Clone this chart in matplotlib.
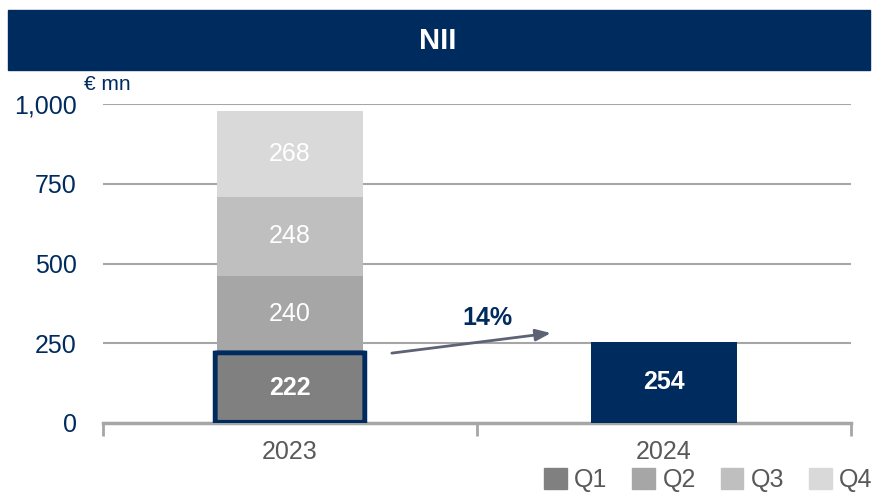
import matplotlib.pyplot as plt
from matplotlib.patches import FancyBboxPatch

plt.rcParams['font.family'] = ['Liberation Sans', 'DejaVu Sans']

years = ["2023", "2024"]
quarters = ["Q1", "Q2", "Q3", "Q4"]
nii_2023 = [222, 240, 248, 268]
nii_2024 = [254]
growth = "14%"
yticks = [0, 250, 500, 750, 1000]

navy = "#002B5E"
q_colors = ["#808080", "#A6A6A6", "#BFBFBF", "#D9D9D9"]
fs = 18

fig = plt.figure(figsize=(8.75, 4.93), dpi=100)
ax = fig.add_axes([103 / 875, 70 / 493, 748 / 875, 319 / 493])

# title banner
fig.patches.append(plt.Rectangle((8 / 875, 423 / 493), 862 / 875, 60 / 493,
                                 transform=fig.transFigure, color=navy, zorder=0))
fig.text(0.5, 452 / 493, "NII", color="white", fontsize=21, fontweight="bold",
         ha="center", va="center")

width = 0.39
bottom = 0
for i, v in enumerate(nii_2023):
    ax.bar(0, v, width, bottom=bottom, color=q_colors[i], zorder=3)
    ax.text(0, bottom + v / 2, str(v), color="white", fontsize=fs,
            fontweight="bold" if i == 0 else "normal", ha="center", va="center", zorder=5)
    bottom += v

# highlight Q1 box
hl = FancyBboxPatch((-width / 2 - 0.005, 2), width + 0.01, nii_2023[0] - 4,
                    boxstyle="round,pad=0,rounding_size=0.01", fill=False,
                    edgecolor=navy, linewidth=3.5, zorder=4, mutation_aspect=50)
ax.add_patch(hl)

ax.bar(1, nii_2024[0], width, color=navy, zorder=3)
ax.text(1, nii_2024[0] / 2, str(nii_2024[0]), color="white", fontsize=fs,
        fontweight="bold", ha="center", va="center", zorder=5)

# growth arrow
ax.annotate("", xy=(0.705, 283), xytext=(0.265, 218),
            arrowprops=dict(arrowstyle="-|>,head_length=0.9,head_width=0.35",
                            color="#5B6374", lw=2), zorder=5)
ax.text(0.527, 330, growth, color=navy, fontsize=fs, fontweight="bold",
        ha="center", va="center")

ax.set_xlim(-0.5, 1.5)
ax.set_ylim(0, 1000)
ax.set_yticks(yticks)
ax.set_yticklabels([f"{t:,}" for t in yticks])
ax.tick_params(axis="y", length=0, pad=19, labelsize=fs, labelcolor=navy)
ax.set_xticks([0, 1])
ax.set_xticklabels(years)
ax.tick_params(axis="x", which="major", length=0, pad=12, labelsize=fs, labelcolor="#595959")
ax.set_xticks([-0.5, 0.5, 1.5], minor=True)
ax.tick_params(axis="x", which="minor", length=9, width=2, color="#A6A6A6", direction="out")
ax.grid(axis="y", color="#A6A6A6", linewidth=1.5, zorder=0)
for s in ["top", "right", "left"]:
    ax.spines[s].set_visible(False)
ax.spines["bottom"].set_color("#A6A6A6")
ax.spines["bottom"].set_linewidth(2.5)

fig.text(84 / 875, 408 / 493, "€ mn", color=navy, fontsize=15, ha="left", va="center")

# legend
handles = [plt.Rectangle((0, 0), 1, 1, color=c) for c in q_colors]
leg = fig.legend(handles, quarters, loc="center left", bbox_to_anchor=(544 / 875, 13 / 493),
                 ncol=4, frameon=False, fontsize=fs, handlelength=0.9, handleheight=0.9,
                 handletextpad=0.3, columnspacing=1.0, borderaxespad=0, borderpad=0)
for t in leg.get_texts():
    t.set_color("#595959")

fig.savefig("out.png", dpi=100)
